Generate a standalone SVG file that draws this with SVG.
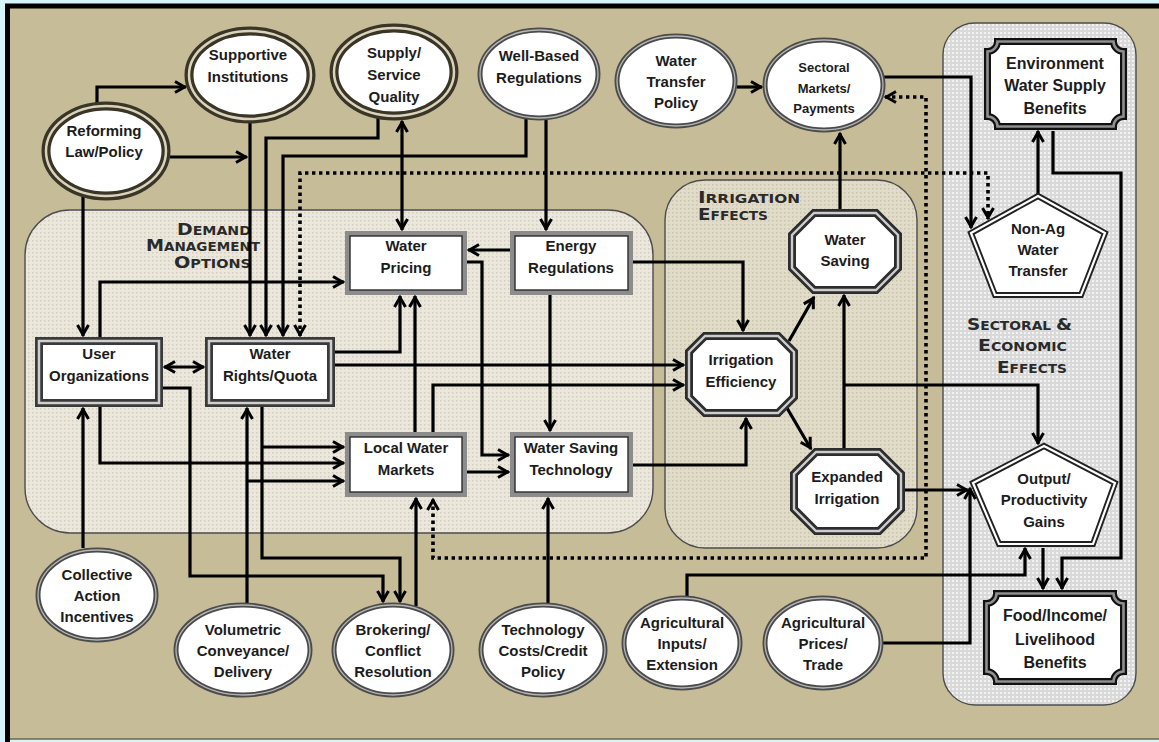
<svg xmlns="http://www.w3.org/2000/svg" width="1159" height="742" viewBox="0 0 1159 742">
<defs>
<style>
.ln{fill:none;stroke:#000;stroke-width:3.2;stroke-linejoin:miter}
.dot{fill:none;stroke:#000;stroke-width:3.6;stroke-dasharray:3.4 3.6}
.arr{marker-end:url(#ah)}
.arr2{marker-start:url(#ah);marker-end:url(#ah)}
.t{font-family:"Liberation Sans",Arial,sans-serif;font-weight:bold;font-size:15px;fill:#1c1c1c;text-anchor:middle}
.t13{font-size:13px}
.t16{font-size:16px}
.lbl{font-family:"DejaVu Sans","Liberation Sans",sans-serif;font-weight:bold;fill:#2a2a2a}
.e1{fill:#fff;stroke:#3a3526;stroke-width:9}
.e1b{fill:none;stroke:#d9d3bc;stroke-width:2.5}
.e2{fill:#fff;stroke:#4b4b4b;stroke-width:5}
.e2b{fill:none;stroke:#b5b5b5;stroke-width:1.3}
.b1{fill:#fff;stroke:#3a3a3a;stroke-width:8}
.b1b{fill:none;stroke:#cfcfcf;stroke-width:2.5}
.b2{fill:#fff;stroke:#8c8c8c;stroke-width:5}
.b2b{fill:none;stroke:#2b2b2b;stroke-width:1.4}
.o1{fill:#fff;stroke:#2d2d2d;stroke-width:8}
.o1b{fill:none;stroke:#cdcdcd;stroke-width:2.4}
.p1{fill:#fff;stroke:#222;stroke-width:6}
.p1b{fill:none;stroke:#fff;stroke-width:2.2}
.q1{fill:#fff;stroke:#111;stroke-width:7}
.q1b{fill:none;stroke:#8f8f8f;stroke-width:2.6}
.panel{stroke:#4d4d4d;stroke-width:1.4}
</style>
<marker id="ah" viewBox="0 0 14 14" refX="12" refY="7" markerWidth="14" markerHeight="14" orient="auto-start-reverse" markerUnits="userSpaceOnUse" overflow="visible">
<path d="M1,1.5 L10.5,7 L1,12.5" fill="none" stroke="#000" stroke-width="3"/>
</marker>
<pattern id="pd" width="4" height="4" patternUnits="userSpaceOnUse"><rect width="4" height="4" fill="#ebe7dc"/><rect width="1.5" height="1.5" fill="#d3cdbd"/></pattern>
<pattern id="pi" width="4" height="4" patternUnits="userSpaceOnUse"><rect width="4" height="4" fill="#e1dcc9"/><rect width="1.5" height="1.5" fill="#cac3ab"/></pattern>
<pattern id="ps" width="4" height="4" patternUnits="userSpaceOnUse"><rect width="4" height="4" fill="#d9d9d9"/><rect width="2" height="2" fill="#f2f2f2"/></pattern>
</defs>

<rect width="1159" height="742" fill="#d6f5fa"/>
<rect x="7.5" y="6" width="1160" height="733" fill="#c6bd98"/>
<path d="M7.5,742 V6 H1159" fill="none" stroke="#000" stroke-width="5"/>
<path d="M10,739 H1159" fill="none" stroke="#6b6650" stroke-width="1.5"/>

<g id="panels">
<rect class="panel" x="25" y="210" width="628" height="323" rx="45" fill="url(#pd)"/>
<rect class="panel" x="665" y="180" width="252" height="368" rx="40" fill="url(#pi)"/>
<rect class="panel" x="943" y="23" width="193" height="682" rx="32" fill="url(#ps)"/>
<text class="lbl" x="177" y="235" textLength="74" lengthAdjust="spacingAndGlyphs"><tspan font-size="16">D</tspan><tspan font-size="12">EMAND</tspan></text>
<text class="lbl" x="146" y="251" textLength="114" lengthAdjust="spacingAndGlyphs"><tspan font-size="16">M</tspan><tspan font-size="12">ANAGEMENT</tspan></text>
<text class="lbl" x="174" y="268" textLength="77" lengthAdjust="spacingAndGlyphs"><tspan font-size="16">O</tspan><tspan font-size="12">PTIONS</tspan></text>
<text class="lbl" x="698" y="203" textLength="102" lengthAdjust="spacingAndGlyphs"><tspan font-size="16">I</tspan><tspan font-size="12">RRIGATION</tspan></text>
<text class="lbl" x="698" y="220" textLength="70" lengthAdjust="spacingAndGlyphs"><tspan font-size="16">E</tspan><tspan font-size="12">FFECTS</tspan></text>
<text class="lbl" x="967" y="330" textLength="105" lengthAdjust="spacingAndGlyphs"><tspan font-size="16">S</tspan><tspan font-size="12">ECTORAL </tspan><tspan font-size="16">&amp;</tspan></text>
<text class="lbl" x="978" y="351" textLength="89" lengthAdjust="spacingAndGlyphs"><tspan font-size="16">E</tspan><tspan font-size="12">CONOMIC</tspan></text>
<text class="lbl" x="997" y="373" textLength="70" lengthAdjust="spacingAndGlyphs"><tspan font-size="16">E</tspan><tspan font-size="12">FFECTS</tspan></text>
</g>

<g id="connectors">
<path class="ln arr" d="M97,103 V87 H186"/>
<path class="ln arr" d="M170,157 H247"/>
<path class="ln arr" d="M83,197 V336"/>
<path class="ln arr" d="M250,123 V336"/>
<path class="ln arr" d="M378,118 V138 H266 V336"/>
<path class="ln arr" d="M526,119 V156 H283 V336"/>
<path class="ln arr2" d="M402,121 V230"/>
<path class="ln arr" d="M546,120 V230"/>
<path class="ln arr" d="M100,337 V282 H344"/>
<path class="ln arr" d="M510,250 H468"/>
<path class="ln arr" d="M335,352 H400 V296"/>
<path class="ln arr" d="M415,432 V296"/>
<path class="ln arr" d="M467,262 H482 V455 H509"/>
<path class="ln arr" d="M633,262 H743 V331"/>
<path class="ln arr" d="M550,295 V431"/>
<path class="ln arr" d="M335,365 H684"/>
<path class="ln arr" d="M433,432 V385 H684"/>
<path class="ln arr2" d="M164,367 H204"/>
<path class="ln arr" d="M100,407 V463 H344"/>
<path class="ln arr" d="M262,407 V558 H400 V602"/>
<path class="ln arr" d="M262,447 H344"/>
<path class="ln arr" d="M163,388 H190 V576 H383 V602"/>
<path class="ln arr" d="M247,603 V408"/>
<path class="ln arr" d="M247,481 H344"/>
<path class="ln arr" d="M83,548 V408"/>
<path class="ln arr" d="M416,606 V498"/>
<path class="ln arr" d="M467,472 H509"/>
<path class="ln arr" d="M548,603 V498"/>
<path class="ln arr" d="M633,465 H746 V418"/>
<path class="ln arr" d="M789,341 L814,297"/>
<path class="ln arr" d="M787,408 L811,449"/>
<path class="ln arr" d="M844,449 V295"/>
<path class="ln arr" d="M844,385 H1038 V444"/>
<path class="ln arr" d="M840,209 V133"/>
<path class="ln arr" d="M737,87 H762"/>
<path class="ln arr" d="M884,77 H971 V228"/>
<path class="ln arr" d="M1038,194 V131"/>
<path class="ln arr" d="M1053,131 V173 H1121 V558 H1062 V589"/>
<path class="ln arr" d="M905,490 H968"/>
<path class="ln arr" d="M883,643 H970 V488"/>
<path class="ln arr" d="M687,596 V575 H1025 V548"/>
<path class="ln arr" d="M1043,548 V589"/>
<path class="dot arr2" d="M300,336 V173 H988 V219"/>
<path class="dot arr2" d="M885,97 H926 V558 H433 V499"/>
</g>

<g id="reforming">
<ellipse class="e1" cx="106" cy="151" rx="60" ry="45"/><ellipse class="e1b" cx="106" cy="151" rx="60" ry="45"/>
<text class="t" x="104" y="136">Reforming</text><text class="t" x="104" y="157">Law/Policy</text>
</g>
<g id="supportive">
<ellipse class="e1" cx="250" cy="75" rx="61" ry="44"/><ellipse class="e1b" cx="250" cy="75" rx="61" ry="44"/>
<text class="t" x="248" y="60">Supportive</text><text class="t" x="248" y="82">Institutions</text>
</g>
<g id="supply">
<ellipse class="e1" cx="394" cy="72" rx="60" ry="44"/><ellipse class="e1b" cx="394" cy="72" rx="60" ry="44"/>
<text class="t" x="394" y="58">Supply/</text><text class="t" x="394" y="80">Service</text><text class="t" x="394" y="102">Quality</text>
</g>
<g id="wellbased">
<ellipse class="e2" cx="539" cy="74" rx="59" ry="44"/><ellipse class="e2b" cx="539" cy="74" rx="59" ry="44"/>
<text class="t" x="539" y="61">Well-Based</text><text class="t" x="539" y="83">Regulations</text>
</g>
<g id="transfer">
<ellipse class="e2" cx="676" cy="81" rx="59" ry="45"/><ellipse class="e2b" cx="676" cy="81" rx="59" ry="45"/>
<text class="t" x="676" y="66">Water</text><text class="t" x="676" y="87">Transfer</text><text class="t" x="676" y="108">Policy</text>
</g>
<g id="sectoral">
<ellipse class="e2" cx="824" cy="85" rx="59" ry="45"/><ellipse class="e2b" cx="824" cy="85" rx="59" ry="45"/>
<text class="t t13" x="824" y="72">Sectoral</text><text class="t t13" x="824" y="93">Markets/</text><text class="t t13" x="824" y="113">Payments</text>
</g>
<g id="environment">
<path class="q1" d="M997.5,41.5 H1113.5 A10,10 0 0 0 1123.5,51.5 V116.5 A10,10 0 0 0 1113.5,126.5 H997.5 A10,10 0 0 0 987.5,116.5 V51.5 A10,10 0 0 0 997.5,41.5 Z"/>
<path class="q1b" d="M997.5,41.5 H1113.5 A10,10 0 0 0 1123.5,51.5 V116.5 A10,10 0 0 0 1113.5,126.5 H997.5 A10,10 0 0 0 987.5,116.5 V51.5 A10,10 0 0 0 997.5,41.5 Z"/>
<text class="t t16" x="1055" y="69">Environment</text><text class="t t16" x="1055" y="91">Water Supply</text><text class="t t16" x="1055" y="114">Benefits</text>
</g>
<g id="nonag">
<polygon class="p1" points="1038,196 1105,233 1081,295 995,295 971,233"/><polygon class="p1b" points="1038,196 1105,233 1081,295 995,295 971,233"/>
<text class="t" x="1038" y="234">Non-Ag</text><text class="t" x="1038" y="255">Water</text><text class="t" x="1038" y="276">Transfer</text>
</g>
<g id="userorg">
<rect class="b1" x="39" y="341" width="120" height="62"/><rect class="b1b" x="39" y="341" width="120" height="62"/>
<text class="t" x="99" y="359">User</text><text class="t" x="99" y="381">Organizations</text>
</g>
<g id="waterrights">
<rect class="b1" x="209" y="341" width="122" height="62"/><rect class="b1b" x="209" y="341" width="122" height="62"/>
<text class="t" x="270" y="359">Water</text><text class="t" x="270" y="381">Rights/Quota</text>
</g>
<g id="pricing">
<rect class="b2" x="347.5" y="233.5" width="117" height="59"/><rect class="b2b" x="350" y="236" width="112" height="54"/>
<text class="t" x="406" y="251">Water</text><text class="t" x="406" y="273">Pricing</text>
</g>
<g id="energy">
<rect class="b2" x="512.5" y="233.5" width="118" height="59"/><rect class="b2b" x="515" y="236" width="113" height="54"/>
<text class="t" x="571" y="251">Energy</text><text class="t" x="571" y="273">Regulations</text>
</g>
<g id="localmarkets">
<rect class="b2" x="347.5" y="434.5" width="117" height="60"/><rect class="b2b" x="350" y="437" width="112" height="55"/>
<text class="t" x="406" y="453">Local Water</text><text class="t" x="406" y="475">Markets</text>
</g>
<g id="savingtech">
<rect class="b2" x="512.5" y="434.5" width="118" height="60"/><rect class="b2b" x="515" y="437" width="113" height="55"/>
<text class="t" x="571" y="453">Water Saving</text><text class="t" x="571" y="475">Technology</text>
</g>
<g id="irrefficiency">
<polygon class="o1" points="705,336 778,336 794,352 794,397 778,413 705,413 689,397 689,352"/>
<polygon class="o1b" points="705,336 778,336 794,352 794,397 778,413 705,413 689,397 689,352"/>
<text class="t" x="741" y="365">Irrigation</text><text class="t" x="741" y="387">Efficiency</text>
</g>
<g id="watersaving">
<polygon class="o1" points="814,213 876,213 898,235 898,268 876,290 814,290 792,268 792,235"/>
<polygon class="o1b" points="814,213 876,213 898,235 898,268 876,290 814,290 792,268 792,235"/>
<text class="t" x="845" y="245">Water</text><text class="t" x="845" y="266">Saving</text>
</g>
<g id="expanded">
<polygon class="o1" points="816,452 879,452 901,474 901,509 879,531 816,531 794,509 794,474"/>
<polygon class="o1b" points="816,452 879,452 901,474 901,509 879,531 816,531 794,509 794,474"/>
<text class="t" x="847" y="482">Expanded</text><text class="t" x="847" y="504">Irrigation</text>
</g>
<g id="output">
<polygon class="p1" points="1044,446 1115,483 1093,544 999,544 973,483"/><polygon class="p1b" points="1044,446 1115,483 1093,544 999,544 973,483"/>
<text class="t" x="1044" y="484">Output/</text><text class="t" x="1044" y="505">Productivity</text><text class="t" x="1044" y="527">Gains</text>
</g>
<g id="food">
<path class="q1" d="M996.5,593.5 H1113.5 A10,10 0 0 0 1123.5,603.5 V671.5 A10,10 0 0 0 1113.5,681.5 H996.5 A10,10 0 0 0 986.5,671.5 V603.5 A10,10 0 0 0 996.5,593.5 Z"/>
<path class="q1b" d="M996.5,593.5 H1113.5 A10,10 0 0 0 1123.5,603.5 V671.5 A10,10 0 0 0 1113.5,681.5 H996.5 A10,10 0 0 0 986.5,671.5 V603.5 A10,10 0 0 0 996.5,593.5 Z"/>
<text class="t t16" x="1055" y="621">Food/Income/</text><text class="t t16" x="1055" y="645">Livelihood</text><text class="t t16" x="1055" y="668">Benefits</text>
</g>
<g id="collective">
<ellipse class="e2" cx="97" cy="595" rx="59" ry="45"/><ellipse class="e2b" cx="97" cy="595" rx="59" ry="45"/>
<text class="t" x="97" y="580">Collective</text><text class="t" x="97" y="601">Action</text><text class="t" x="97" y="622">Incentives</text>
</g>
<g id="volumetric">
<ellipse class="e2" cx="243" cy="650" rx="67" ry="45"/><ellipse class="e2b" cx="243" cy="650" rx="67" ry="45"/>
<text class="t" x="243" y="635">Volumetric</text><text class="t" x="243" y="656">Conveyance/</text><text class="t" x="243" y="677">Delivery</text>
</g>
<g id="brokering">
<ellipse class="e2" cx="393" cy="650" rx="59" ry="45"/><ellipse class="e2b" cx="393" cy="650" rx="59" ry="45"/>
<text class="t" x="393" y="635">Brokering/</text><text class="t" x="393" y="656">Conflict</text><text class="t" x="393" y="677">Resolution</text>
</g>
<g id="technology">
<ellipse class="e2" cx="543" cy="650" rx="62" ry="45"/><ellipse class="e2b" cx="543" cy="650" rx="62" ry="45"/>
<text class="t" x="543" y="635">Technology</text><text class="t" x="543" y="656">Costs/Credit</text><text class="t" x="543" y="677">Policy</text>
</g>
<g id="aginputs">
<ellipse class="e2" cx="682" cy="643" rx="58" ry="45"/><ellipse class="e2b" cx="682" cy="643" rx="58" ry="45"/>
<text class="t" x="682" y="628">Agricultural</text><text class="t" x="682" y="649">Inputs/</text><text class="t" x="682" y="670">Extension</text>
</g>
<g id="agprices">
<ellipse class="e2" cx="823" cy="643" rx="58" ry="45"/><ellipse class="e2b" cx="823" cy="643" rx="58" ry="45"/>
<text class="t" x="823" y="628">Agricultural</text><text class="t" x="823" y="649">Prices/</text><text class="t" x="823" y="670">Trade</text>
</g>
</svg>
